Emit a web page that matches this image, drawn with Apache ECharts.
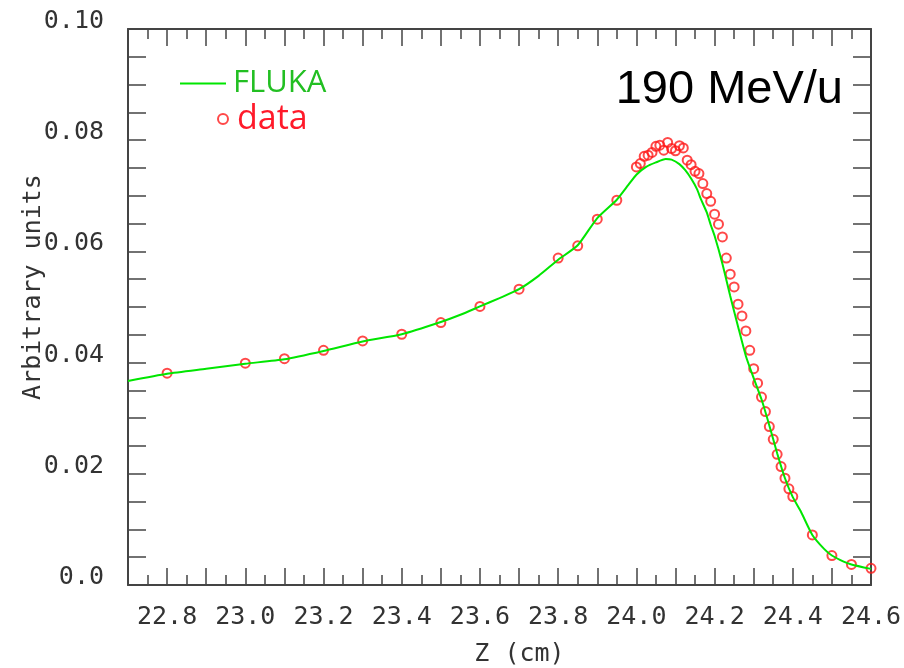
<!DOCTYPE html>
<html>
<head>
<meta charset="utf-8">
<title>190 MeV/u</title>
<script src="https://cdn.jsdelivr.net/npm/echarts@6/dist/echarts.min.js"></script>
<style>
  html, body { margin: 0; padding: 0; background: #fff; }
  #main { width: 904px; height: 668px; }
</style>
</head>
<body>
<div id="main"></div>
<script>
// measured points (Z in cm, arbitrary units)
const dataZ = [22.8, 23.0, 23.1, 23.2, 23.3, 23.4, 23.5, 23.6, 23.7, 23.8, 23.85, 23.9, 23.95,
  24.0, 24.01, 24.02, 24.03, 24.04, 24.05, 24.06, 24.07, 24.08, 24.09, 24.10, 24.11, 24.12,
  24.13, 24.14, 24.15, 24.16, 24.17, 24.18, 24.19, 24.20, 24.21, 24.22, 24.23, 24.24, 24.25,
  24.26, 24.27, 24.28, 24.29, 24.30, 24.31, 24.32, 24.33, 24.34, 24.35, 24.36, 24.37, 24.38,
  24.39, 24.40, 24.45, 24.50, 24.55, 24.60]
const dataVal = [0.0381, 0.0399, 0.0407, 0.0422, 0.0439, 0.0451, 0.0472, 0.0501, 0.0532, 0.0588, 0.0610, 0.0658, 0.0692,
  0.0752, 0.0758, 0.0771, 0.0773, 0.0778, 0.0789, 0.0791, 0.0782, 0.0796, 0.0785, 0.0781, 0.0790, 0.0786,
  0.0764, 0.0756, 0.0744, 0.0740, 0.0722, 0.0704, 0.0690, 0.0667, 0.0649, 0.0626, 0.0588, 0.0559, 0.0536,
  0.0505, 0.0484, 0.0457, 0.0422, 0.0389, 0.0363, 0.0338, 0.0312, 0.0285, 0.0262, 0.0235, 0.0213, 0.0192,
  0.0173, 0.0159, 0.0090, 0.0053, 0.0037, 0.0030]

// FLUKA simulation curve
const flukaZ = [22.70, 22.80, 22.90, 23.00, 23.10, 23.20, 23.30, 23.40, 23.50, 23.55, 23.60, 23.65,
  23.70, 23.75, 23.80, 23.85, 23.90, 23.95, 23.98, 24.00, 24.025, 24.05, 24.075, 24.09, 24.11,
  24.125, 24.14, 24.155, 24.165, 24.18, 24.19, 24.20, 24.22, 24.24, 24.26, 24.28, 24.30, 24.32,
  24.34, 24.36, 24.38, 24.40, 24.42, 24.45, 24.48, 24.50, 24.53, 24.55, 24.60]
const flukaVal = [0.0367, 0.0380, 0.0389, 0.0398, 0.0406, 0.0421, 0.0438, 0.0451, 0.0473, 0.0486, 0.0501, 0.0516,
  0.0532, 0.0556, 0.0585, 0.0611, 0.0660, 0.0693, 0.0720, 0.0738, 0.0752, 0.0760, 0.0766, 0.0765, 0.0757,
  0.0746, 0.0731, 0.0712, 0.0694, 0.0670, 0.0648, 0.0628, 0.0578, 0.0520, 0.0465, 0.0412, 0.0372, 0.0334,
  0.0287, 0.0237, 0.0192, 0.0158, 0.0133, 0.0090, 0.0065, 0.0053, 0.0042, 0.0037, 0.0029]

const frameColor = '#444'
const monoFont = 'DejaVu Sans Mono'

// common look of the 4 frame axes
function frameAxis(extra) {
  return Object.assign({
    type: 'value',
    axisLine: { show: true, onZero: false, lineStyle: { color: frameColor, width: 2 } },
    axisTick: { show: true, inside: true, length: 17, lineStyle: { color: frameColor, width: 1.5 } },
    splitLine: { show: false },
    minorSplitLine: { show: false }
  }, extra)
}

const xOpts = { min: 22.7, max: 24.6, interval: 0.1 }
const yOpts = { min: 0, max: 0.1, interval: 0.005 }

const option = {
  animation: false,
  backgroundColor: '#fff',
  grid: { left: 128, top: 29, width: 743, height: 556, containLabel: false, outerBoundsMode: 'none' },
  title: {
    text: '190 MeV/u',
    right: 56,
    top: 62,
    textStyle: { fontFamily: 'Liberation Sans', fontSize: 47, fontWeight: 'normal', color: '#000' }
  },
  legend: [
    {
      data: [{ name: 'FLUKA', icon: 'rect' }],
      left: 175,
      top: 63,
      itemWidth: 46,
      itemHeight: 2,
      selectedMode: false,
      textStyle: { fontFamily: 'Open Sans', fontSize: 31, color: '#22bf22', padding: [0, 0, 0, 2] }
    },
    {
      data: ['data'],
      left: 212,
      top: 97,
      itemWidth: 10,
      itemHeight: 10,
      selectedMode: false,
      textStyle: { fontFamily: 'Open Sans', fontSize: 34, color: '#ff1a2a', padding: [0, 0, 0, 4] }
    }
  ],
  xAxis: [
    frameAxis(Object.assign({
      position: 'bottom',
      name: 'Z (cm)',
      nameLocation: 'middle',
      nameGap: 57,
      nameTextStyle: { fontFamily: monoFont, fontSize: 25, color: '#333', padding: [0, 0, 0, 40] },
      minorTick: { show: true, splitNumber: 2, length: 10, lineStyle: { color: frameColor, width: 1.5 } },
      axisLabel: {
        margin: 20,
        fontFamily: monoFont,
        fontSize: 25,
        color: '#333',
        formatter: function (v) {
          return Math.round(v * 10) % 2 === 0 ? v.toFixed(1) : ''
        }
      }
    }, xOpts)),
    frameAxis(Object.assign({
      position: 'top',
      minorTick: { show: true, splitNumber: 2, length: 10, lineStyle: { color: frameColor, width: 1.5 } },
      axisLabel: { show: false }
    }, xOpts))
  ],
  yAxis: [
    frameAxis(Object.assign({
      position: 'left',
      axisTick: { show: true, inside: true, length: 18, lineStyle: { color: frameColor, width: 1.5 } },
      axisLabel: {
        margin: 24,
        fontFamily: monoFont,
        fontSize: 25,
        color: '#333',
        verticalAlign: 'bottom',
        lineHeight: 15,
        formatter: function (v) {
          if (Math.round(v * 1000) % 20 !== 0) return ''
          return v === 0 ? '0.0' : v.toFixed(2)
        }
      }
    }, yOpts)),
    frameAxis(Object.assign({
      position: 'right',
      axisTick: { show: true, inside: true, length: 18, lineStyle: { color: frameColor, width: 1.5 } },
      axisLabel: { show: false }
    }, yOpts))
  ],
  graphic: [
    {
      type: 'text',
      x: 33,
      y: 287,
      rotation: Math.PI / 2,
      style: {
        text: 'Arbitrary units',
        fontFamily: monoFont,
        fontSize: 25,
        fill: '#333',
        align: 'center',
        verticalAlign: 'middle'
      }
    }
  ],
  series: [
    {
      name: 'data',
      type: 'scatter',
      xAxisIndex: 0,
      yAxisIndex: 0,
      symbol: 'circle',
      symbolSize: 9,
      itemStyle: { color: 'transparent', borderColor: '#ff1a1a', borderWidth: 2 },
      data: dataZ.map((z, i) => [z, dataVal[i]]),
      z: 2
    },
    {
      name: 'FLUKA',
      type: 'line',
      xAxisIndex: 0,
      yAxisIndex: 0,
      smooth: 0.2,
      symbol: 'none',
      lineStyle: { color: '#00e600', width: 2 },
      itemStyle: { color: '#00e600' },
      data: flukaZ.map((z, i) => [z, flukaVal[i]]),
      z: 3
    }
  ]
}

let chart = echarts.init(document.getElementById('main'))
chart.setOption(option)
</script>
</body>
</html>
